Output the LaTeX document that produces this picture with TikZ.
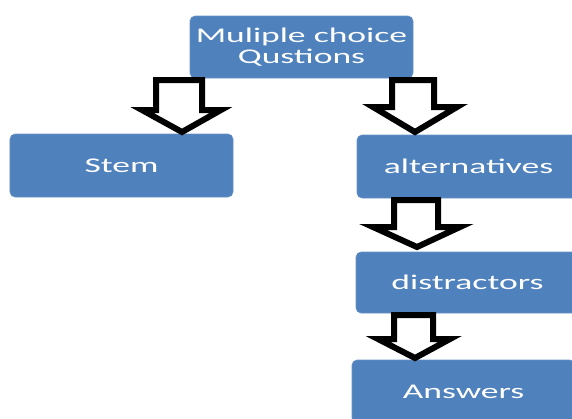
\documentclass[tikz,border=0pt]{standalone}
\usepackage{fontspec}
\newfontfamily\boxfont[FakeStretch=1.7]{Carlito}
\definecolor{boxblue}{HTML}{4F81BD}
\begin{document}
\begin{tikzpicture}[x=1bp,y=-1bp,
  box/.style={fill=boxblue, draw=boxblue!85!white, line width=0.6bp, rounded corners=5bp,
    minimum width=223bp, text=white, align=center, inner sep=0pt,
    font=\boxfont\fontsize{21}{21}\selectfont},
  blockarrow/.style={draw=black, fill=white, line width=6bp, line join=miter}]
\clip (0,0) rectangle (572,418);
\fill[white] (0,0) rectangle (572,418);
\node[box, minimum height=62bp] (mcq) at (301.5,47) {Muliple choice\\Qustions};
\node[box, minimum height=63bp] (stem) at (121.5,165.5) {Stem};
\node[box, minimum height=63bp] (alt) at (468.5,166.5) {alternatives};
\node[box, minimum height=61bp] (dis) at (467.5,282.5) {distractors};
\node[box, minimum height=63bp] (ans) at (463.5,391.5) {Answers};
% block arrows
\draw[blockarrow] (156,80) -- (202,80) -- (202,110) -- (221,110) -- (182,132) -- (142,110) -- (156,110) -- cycle;
\draw[blockarrow] (392,80) -- (434,80) -- (434,107) -- (457,107) -- (415,132) -- (373,107) -- (392,107) -- cycle;
\draw[blockarrow] (394,200) -- (438,200) -- (438,227) -- (460,227) -- (417,247) -- (373,227) -- (394,227) -- cycle;
\draw[blockarrow] (394,315) -- (433,315) -- (433,339) -- (450,339) -- (415,358) -- (378,339) -- (394,339) -- cycle;
\end{tikzpicture}
\end{document}
